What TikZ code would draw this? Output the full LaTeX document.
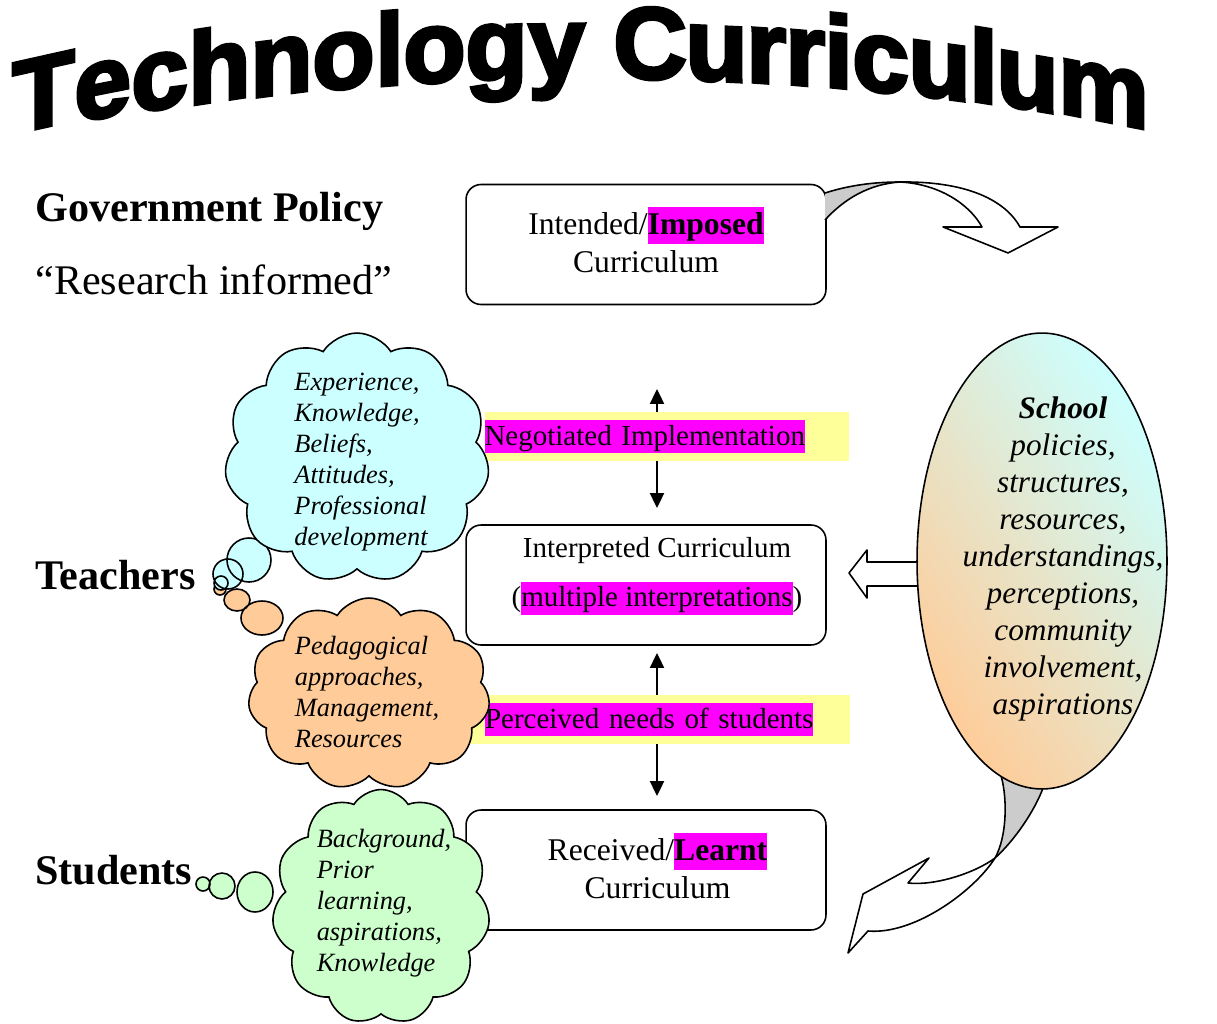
\documentclass[tikz,border=0pt]{standalone}
\usepackage{fontspec}
\setmainfont{Liberation Serif}
\newfontfamily\titlefont[BoldFeatures={FakeBold=3.5}]{Liberation Sans}
\usepackage{tikz}
\usetikzlibrary{arrows.meta,shapes.geometric,shapes.symbols}

\definecolor{cloudcyan}{HTML}{CCFFFF}
\definecolor{cloudpeach}{HTML}{FFCC99}
\definecolor{cloudgreen}{HTML}{CCFFCC}
\definecolor{hlmagenta}{HTML}{FF00FF}
\definecolor{bandyellow}{HTML}{FFFF99}
\definecolor{ribbongray}{HTML}{CCCCCC}

\newcommand{\hl}[1]{{\setlength{\fboxsep}{0pt}\colorbox{hlmagenta}{\rule[-0.28em]{0pt}{1.15em}#1}}}

\begin{document}
\begin{tikzpicture}[x=0.02cm,y=-0.02cm,
    every node/.style={inner sep=0pt},
    cbox/.style={draw,line width=0.9pt,rounded corners=0.3cm,minimum width=7.2cm,minimum height=2.4cm,fill=white},
    boxtext/.style={align=center,font=\fontsize{16.5}{21.5}\selectfont},
    bigboxtext/.style={align=center,font=\fontsize{18}{21.5}\selectfont},
    band/.style={fill=bandyellow,minimum height=0.98cm,align=left,font=\fontsize{16.5}{20}\selectfont},
    heading/.style={anchor=base west,font=\fontsize{24}{28}\selectfont},
    thought/.style={cloud,draw,line width=0.9pt,cloud puffs=11,cloud puff arc=115},
    thoughttext/.style={align=left,font=\fontsize{15}{17.6}\selectfont\itshape},
    bubble/.style={draw,line width=0.9pt},
    ribbon/.style={draw,line width=0.9pt,fill=white,line join=round},
    dblarrow/.style={-{Triangle[length=8.5pt,width=8pt]},line width=1.1pt},
    titleletter/.style={anchor=base west,font=\titlefont\bfseries\fontsize{58}{58}\selectfont}]

  \useasboundingbox (0,0) rectangle (1217,1024);

  % arched title
  \foreach \x/\ch in {12/T,74/e,131/c,188/h,250/n,312/o,375/l,403/o,465/g,528/y,
                      613/C,685/u,746/r,785/r,824/i,852/c,908/u,969/l,996/u,1058/m}{
    \pgfmathsetmacro\by{78+1.62*((\x-600)/100)^2}
    \pgfmathsetmacro\sl{0.4*(570-\x)/1000}
    \node[titleletter,yslant=\sl] (t\x) at (\x,\by) {\ch};
  }

  % left labels
  \node[heading] (govt) at (35,221) {\textbf{Government Policy}};
  \node[heading] (research) at (35,294) {``Research informed''};
  \node[heading] (teachers) at (35,589) {\textbf{Teachers}};
  \node[heading] (students) at (35,884) {\textbf{Students}};

  % curriculum boxes
  \node[cbox] (intended) at (646,244.5) {};
  \node[bigboxtext] (intendedtxt) at (646,240) {Intended/\hl{\textbf{Imposed}}\\Curriculum};
  \node[cbox] (interp) at (646,585) {};
  \node[boxtext] (interptxt) at (657,576) {Interpreted Curriculum\\[6.9pt](\hl{multiple interpretations})};
  \node[cbox] (received) at (646,870) {};
  \node[bigboxtext] (receivedtxt) at (657.5,866) {Received/\hl{\textbf{Learnt}}\\Curriculum};

  % twisted arrow leaving the intended box
  \fill[ribbongray] (825,193) .. controls (850,185) and (875,182) .. (900,182)
    .. controls (870,184) and (845,198) .. (825,220) -- cycle;
  \draw[line width=0.9pt] (825,193) .. controls (850,185) and (875,182) .. (900,182);
  \draw[line width=0.9pt] (825,220) .. controls (845,198) and (870,184) .. (900,182);
  \path[ribbon] (900,182) .. controls (975,181) and (1008,205) .. (1020,227)
    -- (1058,227) -- (1008,253) -- (943,227) -- (982,227)
    .. controls (970,205) and (940,184) .. (900,182) -- cycle;

  % negotiation arrows and bands
  \coordinate (negup) at (657,389);
  \coordinate (negdown) at (657,508);
  \coordinate (perup) at (657,653);
  \coordinate (perdown) at (657,796);
  \node[band,text width=7.3cm] (neg) at (667,436.5) {\hl{Negotiated Implementation}};
  \node[band,inner xsep=0.4cm,text width=6.9cm] (per) at (657.5,719.5) {\hl{Perceived needs of students}};
  \draw[dblarrow] (neg.north -| negup) -- (negup);
  \draw[dblarrow] (neg.south -| negdown) -- (negdown);
  \draw[dblarrow] (per.north -| perup) -- (perup);
  \draw[dblarrow] (per.south -| perdown) -- (perdown);

  % block arrow into the interpreted box
  \path[ribbon] (935,562) -- (867,562) -- (867,550) -- (849,573) -- (867,598) -- (867,586) -- (935,586);

  % twisted arrow down to the received box
  \fill[ribbongray] (1000,740) -- (998,767) .. controls (1008,790) and (1008,835) .. (995,858)
    .. controls (1015,840) and (1035,810) .. (1043,788) -- (1045,760) -- cycle;
  \draw[line width=0.9pt] (998,767) .. controls (1008,790) and (1008,835) .. (995,858);
  \draw[line width=0.9pt] (1043,788) .. controls (1035,810) and (1015,840) .. (995,858);
  \path[ribbon] (995,858) .. controls (975,873) and (935,886) .. (908,883)
    -- (929,858) -- (863,894) -- (848,953) -- (868,931)
    .. controls (915,935) and (975,890) .. (995,858) -- cycle;

  % school ellipse
  \node[ellipse,draw,line width=0.9pt,minimum width=5cm,minimum height=9.12cm,
        top color=cloudcyan,bottom color=cloudpeach,shading angle=-55] (school) at (1042,561) {};
  \node[align=center,font=\fontsize{17.8}{21}\selectfont\itshape] (schooltxt) at (1063,559)
    {\textbf{School}\\policies,\\structures,\\resources,\\understandings,\\perceptions,\\community\\involvement,\\aspirations};

  % thought clouds
  \path[bubble,fill=cloudpeach] (220,589) ellipse [x radius=6,y radius=6]
    (237,600) ellipse [x radius=13,y radius=11] (262,618) ellipse [x radius=21,y radius=17];
  \node[thought,fill=cloudpeach,minimum width=4.84cm,minimum height=3.84cm] (pedcloud) at (369,694) {};
  \node[thoughttext] (pedtxt) at (367,692) {Pedagogical\\approaches,\\Management,\\Resources};
  \path[bubble,fill=cloudcyan] (249,560) ellipse [x radius=22,y radius=22]
    (228,574) ellipse [x radius=15,y radius=15] (221,583) ellipse [x radius=7,y radius=7];
  \node[thought,fill=cloudcyan,minimum width=5.3cm,minimum height=5cm] (expcloud) at (357,458) {};
  \node[thoughttext] (exptxt) at (361,462) {Experience,\\Knowledge,\\Beliefs,\\Attitudes,\\Professional\\development};
  \path[bubble,fill=cloudgreen] (203,884) ellipse [x radius=7,y radius=7]
    (222,886) ellipse [x radius=13,y radius=13] (255,892) ellipse [x radius=18,y radius=20];
  \node[thought,fill=cloudgreen,minimum width=4.36cm,minimum height=4.7cm] (bgcloud) at (381,907) {};
  \node[thoughttext] (bgtxt) at (384,903) {Background,\\Prior\\learning,\\aspirations,\\Knowledge};
\end{tikzpicture}
\end{document}
